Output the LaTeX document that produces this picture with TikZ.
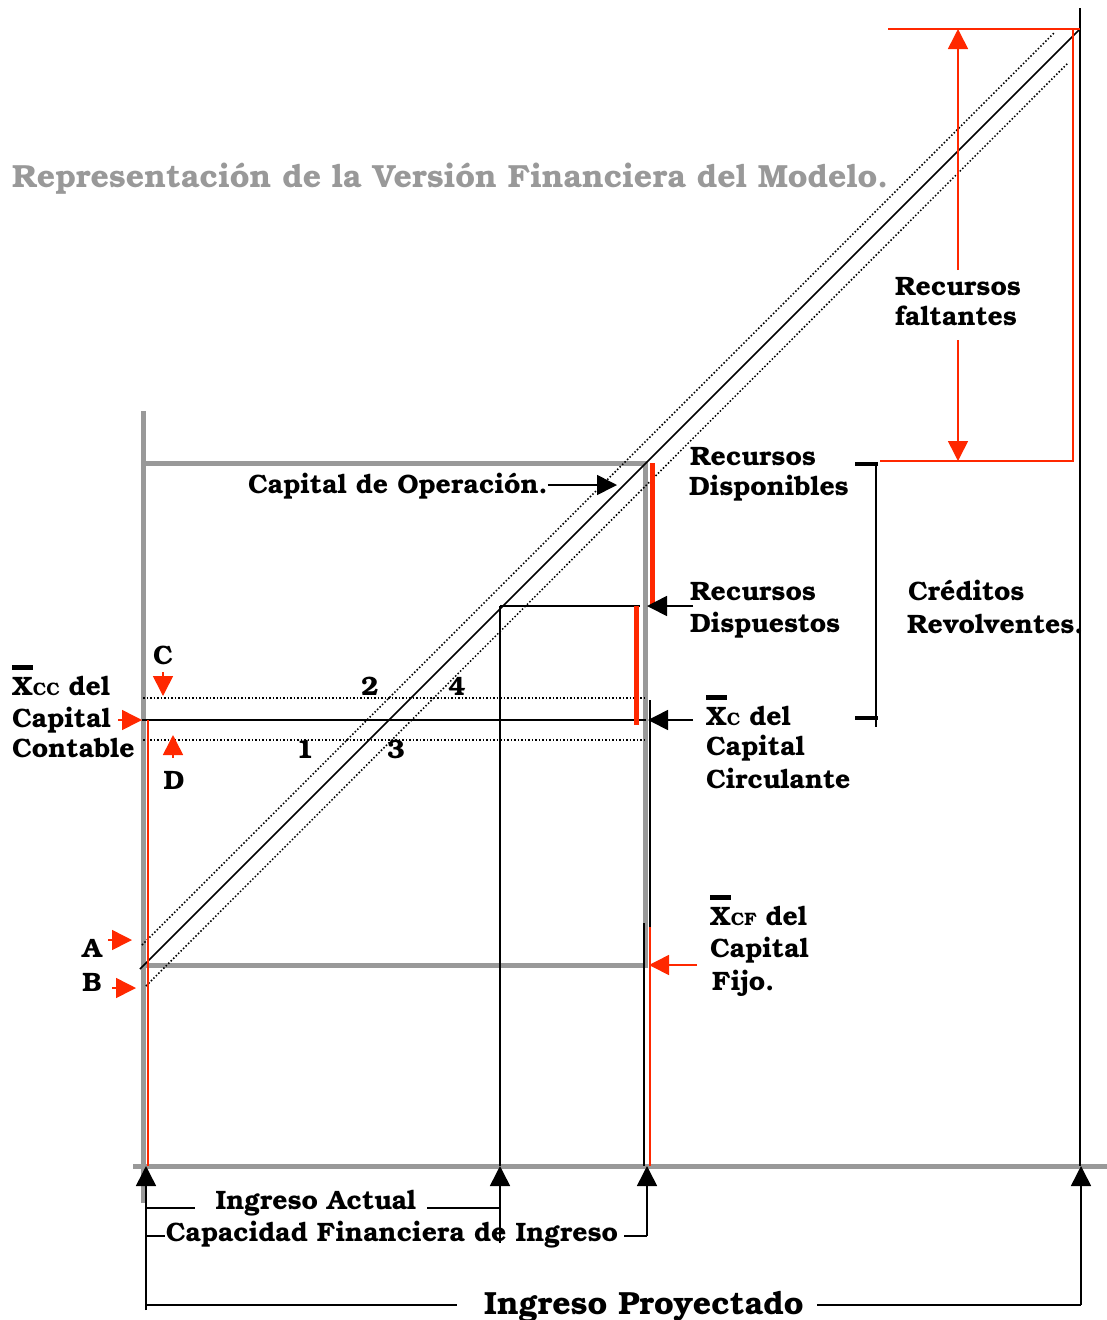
\documentclass[tikz,border=0pt]{standalone}
\usepackage{fontspec}
\setmainfont{texgyrebonum}[Extension=.otf, UprightFont=*-regular, BoldFont=*-bold, ItalicFont=*-italic, BoldItalicFont=*-bolditalic]
\usetikzlibrary{arrows.meta}
\definecolor{rd}{RGB}{255,40,0}
\definecolor{gr}{RGB}{153,153,153}
\newcommand{\xbarsub}[1]{\sbox0{X}\rlap{\rule[0.95em]{\wd0}{0.19em}}X{\fontsize{18}{18}\selectfont #1}}
\begin{document}
\begin{tikzpicture}[x={(1pt,0pt)},y={(0pt,-1pt)},
  lbl/.style={inner sep=0pt, font=\fontsize{26.6}{26.6}\selectfont\bfseries, anchor=base west},
  lblc/.style={lbl, anchor=base},
  grayln/.style={gr, line width=5pt},
  blk/.style={black, line width=1.6pt},
  redln/.style={rd, line width=1.6pt},
  redbar/.style={rd, line width=5pt},
  dotln/.style={black, line width=1.5pt, dash pattern=on 1.5pt off 2pt},
  tipA/.style={-{Triangle[length=20pt,width=20pt]}},
  thickbar/.style={black, line width=4.5pt}
]
\useasboundingbox (0,0) rectangle (1107,1320);

% gray axes and box
\draw[grayln] (143,411) -- (143,1203);
\draw[grayln] (133,1166) -- (1107,1166);
\draw[grayln] (143,463) rectangle (645,965);

% diagonals
\coordinate (dS1) at (140,969); \coordinate (dS2) at (1080,29);
\draw[blk] (dS1) -- (dS2);
\coordinate (dU1) at (142,945); \coordinate (dU2) at (1055,32);
\draw[dotln] (dU1) -- (dU2);
\coordinate (dL1) at (146,986); \coordinate (dL2) at (1068,63);
\draw[dotln] (dL1) -- (dL2);

% horizontal lines in box
\draw[dotln] (143,698) -- (645,698);
\draw[dotln] (143,740) -- (645,740);
\draw[blk] (142,720) -- (646,720);
\draw[blk] (500,606) -- (640,606);
\draw[blk] (500,606) -- (500,1166);
\draw[blk] (650,700) -- (650,963);
\draw[blk] (644,923) -- (644,1166);

% right big vertical
\draw[blk] (1080,8) -- (1080,1166);

% red bars and thin red lines
\draw[redbar] (652,463) -- (652,606);
\draw[redbar] (636,606) -- (636,725);
\draw[redln] (148,720) -- (148,1166);
\draw[redln] (650,927) -- (650,1166);

% red rectangle (recursos faltantes)
\draw[redln] (888,29) -- (1080,29);
\draw[redln] (1073,29) -- (1073,461) -- (880,461);

% Creditos bracket
\draw[blk] (876,463) -- (876,727);
\draw[thickbar] (855,464) -- (878,464);
\draw[thickbar] (855,718) -- (878,718);

% ---- labels
\node[lbl, text=gr, font=\fontsize{32}{32}\selectfont\bfseries] (title) at (12,187) {Representaci\'on de la Versi\'on Financiera del Modelo.};

\node[lbl] (co) at (248,493) {Capital de Operaci\'on.};
\node[lbl] (rdi1) at (690,465) {Recursos};
\node[lbl] (rdi2) at (689,495) {Disponibles};
\node[lbl] (rdp1) at (690,600) {Recursos};
\node[lbl] (rdp2) at (690,632) {Dispuestos};
\node[lbl] (cr1) at (908,600) {Cr\'editos};
\node[lbl] (cr2) at (907,633) {Revolventes.};
\node[lbl] (rf1) at (895,295) {Recursos};
\node[lbl] (rf2) at (895,325) {faltantes};

\node[lbl] (xcc1) at (12,695) {\xbarsub{CC} del};
\node[lbl] (xcc2) at (12,727) {Capital};
\node[lbl] (xcc3) at (12,757) {Contable};

\node[lbl] (xc1) at (706,725) {\xbarsub{C} del};
\node[lbl] (xc2) at (706,755) {Capital};
\node[lbl] (xc3) at (706,788) {Circulante};

\node[lbl] (xcf1) at (710,925) {\xbarsub{CF} del};
\node[lbl] (xcf2) at (710,957) {Capital};
\node[lbl] (xcf3) at (712,990) {Fijo.};

\node[lblc] (lC) at (163,664) {C};
\node[lblc] (lD) at (174,789) {D};
\node[lblc] (lA) at (92,957) {A};
\node[lblc] (lB) at (92,991) {B};
\node[lblc] (n2) at (370,695) {2};
\node[lblc] (n4) at (457,695) {4};
\node[lblc] (n1) at (305,758) {1};
\node[lblc] (n3) at (396,758) {3};

\node[lblc] (ia) at (316,1209) {Ingreso Actual};
\node[lblc] (cfi) at (392,1241) {Capacidad Financiera de Ingreso};
\node[lblc, font=\fontsize{32}{32}\selectfont\bfseries] (ip) at (644,1314) {Ingreso Proyectado};

% ---- arrows
\coordinate (coTip) at (617,485);
\draw[blk, tipA] (co.east |- coTip) -- (coTip);
\coordinate (rdpTip) at (647,606);
\draw[blk, tipA] (693,606) -- (rdpTip);
\coordinate (xcTip) at (648,720);
\draw[blk, tipA] (693,720) -- (xcTip);

\draw[redln, tipA] (118,720) -- (142,720);
\draw[redln, tipA] (163,672) -- (163,696);
\draw[redln, tipA] (173,758) -- (173,735);
\draw[redln, tipA] (108,940) -- (132,940);
\draw[redln, tipA] (112,988) -- (136,988);
\draw[redln, tipA] (697,965) -- (649,965);
\draw[redln, tipA] (958,270) -- (958,29);
\draw[redln, tipA] (958,340) -- (958,461);

% bottom brackets
\coordinate (axL) at (146,1166);
\coordinate (axIA) at (500,1166);
\coordinate (axCF) at (647,1166);
\coordinate (axIP) at (1081,1166);
\draw[blk, tipA] (146,1310) -- (axL);
\draw[blk] (146,1208) -- (195,1208);
\draw[blk] (427,1208) -- (500,1208);
\draw[blk, tipA] (500,1243) -- (axIA);
\draw[blk] (146,1236) -- (165,1236);
\draw[blk] (624,1236) -- (647,1236);
\draw[blk, tipA] (647,1236) -- (axCF);
\draw[blk] (146,1305) -- (457,1305);
\draw[blk] (817,1305) -- (1081,1305);
\draw[blk, tipA] (1081,1305) -- (axIP);
\end{tikzpicture}
\end{document}
